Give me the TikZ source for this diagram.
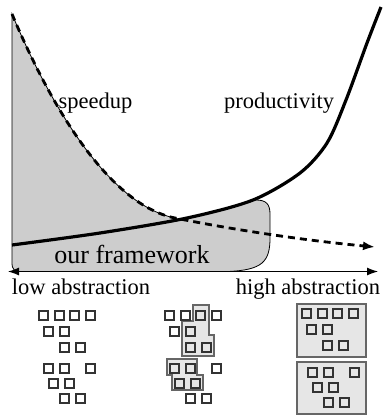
\documentclass[tikz,border=0pt]{standalone}
\usepackage{fontspec}
\setmainfont{Liberation Serif}
\usetikzlibrary{arrows.meta}

\definecolor{areagray}{RGB}{205,205,205}
\definecolor{boxgray}{RGB}{230,230,230}

% square positions (top left corners)
\newcommand{\upperset}{38/310,54/310,69/310,85/310,43/326,59/326,59/342,75/342}
\newcommand{\lowerset}{43/363,59/363,85/363,48/378,64/378,59/393,75/393}

\begin{document}
\begin{tikzpicture}[x=1pt,y=-1pt,
    cell/.style={draw=black!80, line width=1.8pt},
    blob/.style={draw=black!60, line width=1.1pt, fill=boxgray},
    lbl/.style={font=\fontsize{22.5}{27}\selectfont, anchor=base, inner sep=0pt}]
\useasboundingbox (0,0) rectangle (383,418);

% Our framework region
\filldraw[fill=areagray, line width=0.8pt] (12,14) -- (12,262)
    .. controls (12,270) and (14,271.5) .. (22,271.5) -- (228,271.5)
    .. controls (262,270) and (270,262) .. (270,238) -- (270,214)
    .. controls (270,204) and (266,200) .. (256,200)
    -- plot[smooth] coordinates {(253,200.5) (220,210) (187,218) (178,219.5)}
    -- (175,218) .. controls (105,204) and (46,95) .. (12,14)
    -- cycle;

% Speedup
\draw[line width=2.8pt, dash pattern=on 7pt off 5pt, -{Latex[length=12pt,width=9pt]}]
    (12,14) .. controls (46,95) and (105,204) .. (175,218)
    .. controls (230,229) and (300,240) .. (375,247);

% Productivity
\draw[line width=3.2pt]
    plot[smooth] coordinates {(12,245) (100,233) (187,218) (253,200) (300,173) (327,143) (346,100) (367,43) (381,7)};

% Axis
\coordinate (axl) at (8,271.5);
\coordinate (axr) at (378,271.5);
\draw[line width=1pt, {Latex[length=11pt,width=8pt]}-{Latex[length=11pt,width=8pt]}] (axl) -- (axr);

% Labels
\node[lbl] (speedup) at (95.5,108) {speedup};
\node[lbl] (prod) at (279,108) {productivity};
\node[lbl, font=\fontsize{26}{30}\selectfont] (fw) at (132,263) {our framework};
\node[lbl] (low) at (81,294) {low abstraction};
\node[lbl] (high) at (308,294) {high abstraction};

% Grouped squares
\filldraw[blob] (193,305) -- (209,305) -- (209,335) -- (214,335) -- (214,356) -- (182,356) -- (182,321) -- (193,321) -- cycle;
\filldraw[blob] (167,359) -- (197,359) -- (197,375) -- (203,375) -- (203,390) -- (172,390) -- (172,375) -- (167,375) -- cycle;
\filldraw[blob] (297,304) rectangle (366,357);
\filldraw[blob] (297,362) rectangle (366,414);

% Squares
\foreach \x/\y in \upperset
    \draw[cell] (\x+0.6,\y+0.6) rectangle ++(9.3,9.3);
\foreach \x/\y in \lowerset
    \draw[cell] (\x+0.6,\y+0.6) rectangle ++(9.3,9.3);
\begin{scope}[shift={(126,0)}]
    \foreach \x/\y in \upperset
        \draw[cell] (\x+0.6,\y+0.6) rectangle ++(9.3,9.3);
    \foreach \x/\y in \lowerset
        \draw[cell] (\x+0.6,\y+0.6) rectangle ++(9.3,9.3);
\end{scope}
\begin{scope}[shift={(263,-2)}]
    \foreach \x/\y in \upperset
        \draw[cell] (\x+0.6,\y+0.6) rectangle ++(9.3,9.3);
\end{scope}
\begin{scope}[shift={(264,4)}]
    \foreach \x/\y in \lowerset
        \draw[cell] (\x+0.6,\y+0.6) rectangle ++(9.3,9.3);
\end{scope}
\end{tikzpicture}
\end{document}
